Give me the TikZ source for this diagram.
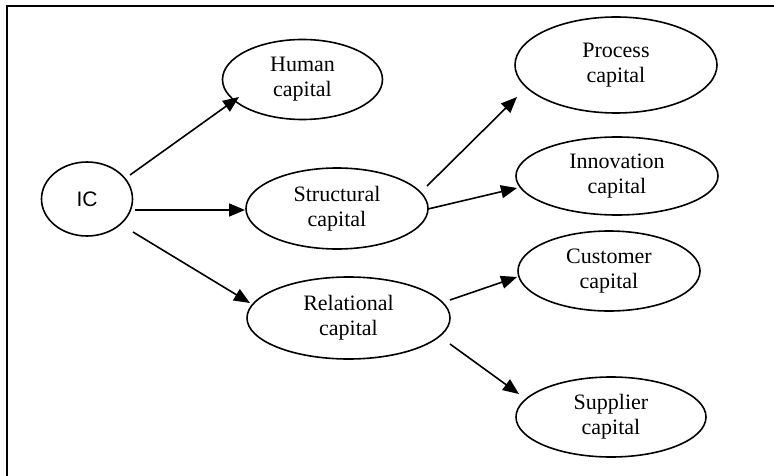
\documentclass[tikz,border=0pt]{standalone}
\usepackage{fontspec}
\setmainfont{Liberation Serif}
\newfontfamily\icfont{Liberation Sans}
\usetikzlibrary{shapes.geometric,arrows.meta,calc}
\begin{document}
\begin{tikzpicture}[x=1pt,y=1pt,
  ell/.style={draw,ellipse,line width=1.6pt,inner sep=0pt,align=center,
    font=\fontsize{22}{25}\selectfont},
  arr/.style={line width=1.6pt,-{Triangle[length=16pt,width=13pt]}},
  frame/.style={line width=2pt}]
\useasboundingbox (0,0) rectangle (774,-476);
\draw[frame] (7,-476) coordinate (fb) -- (7,-6) coordinate (ft) -- (774,-6) coordinate (fr);
\node[ell,minimum width=91pt,minimum height=74pt,font=\icfont\fontsize{21}{24}\selectfont] (ic) at (87,-199) {IC};
\node[ell,minimum width=160pt,minimum height=80pt] (human) at (302.5,-79.5) {Human\\capital};
\node[ell,minimum width=182pt,minimum height=81pt] (struct) at (337,-208.5) {Structural\\capital};
\node[ell,minimum width=203pt,minimum height=82pt] (rel) at (348.5,-318) {Relational\\capital};
\node[ell,minimum width=202pt,minimum height=96pt] (proc) at (616,-65) {Process\\capital};
\node[ell,minimum width=202pt,minimum height=78pt] (innov) at (617,-176) {Innovation\\capital};
\node[ell,minimum width=182pt,minimum height=80pt] (cust) at (609,-271) {Customer\\capital};
\node[ell,minimum width=190pt,minimum height=80pt] (supp) at (611,-417) {Supplier\\capital};
\draw[arr] ($(ic)+(43,24)$) -- ($(human)+(-63.5,-17.5)$);
\draw[arr] ($(ic)+(48,-11)$) -- ($(struct)+(-92,-1.5)$);
\draw[arr] ($(ic)+(46,-33)$) -- ($(rel)+(-98.5,15)$);
\draw[arr] ($(struct)+(90,22.5)$) -- ($(proc)+(-99,-32)$);
\draw[arr] ($(struct)+(91,-0.5)$) -- ($(innov)+(-100,-12)$);
\draw[arr] ($(rel)+(101.5,18)$) -- ($(cust)+(-92,-6)$);
\draw[arr] ($(rel)+(101.5,-26)$) -- ($(supp)+(-92,23)$);
\end{tikzpicture}
\end{document}
